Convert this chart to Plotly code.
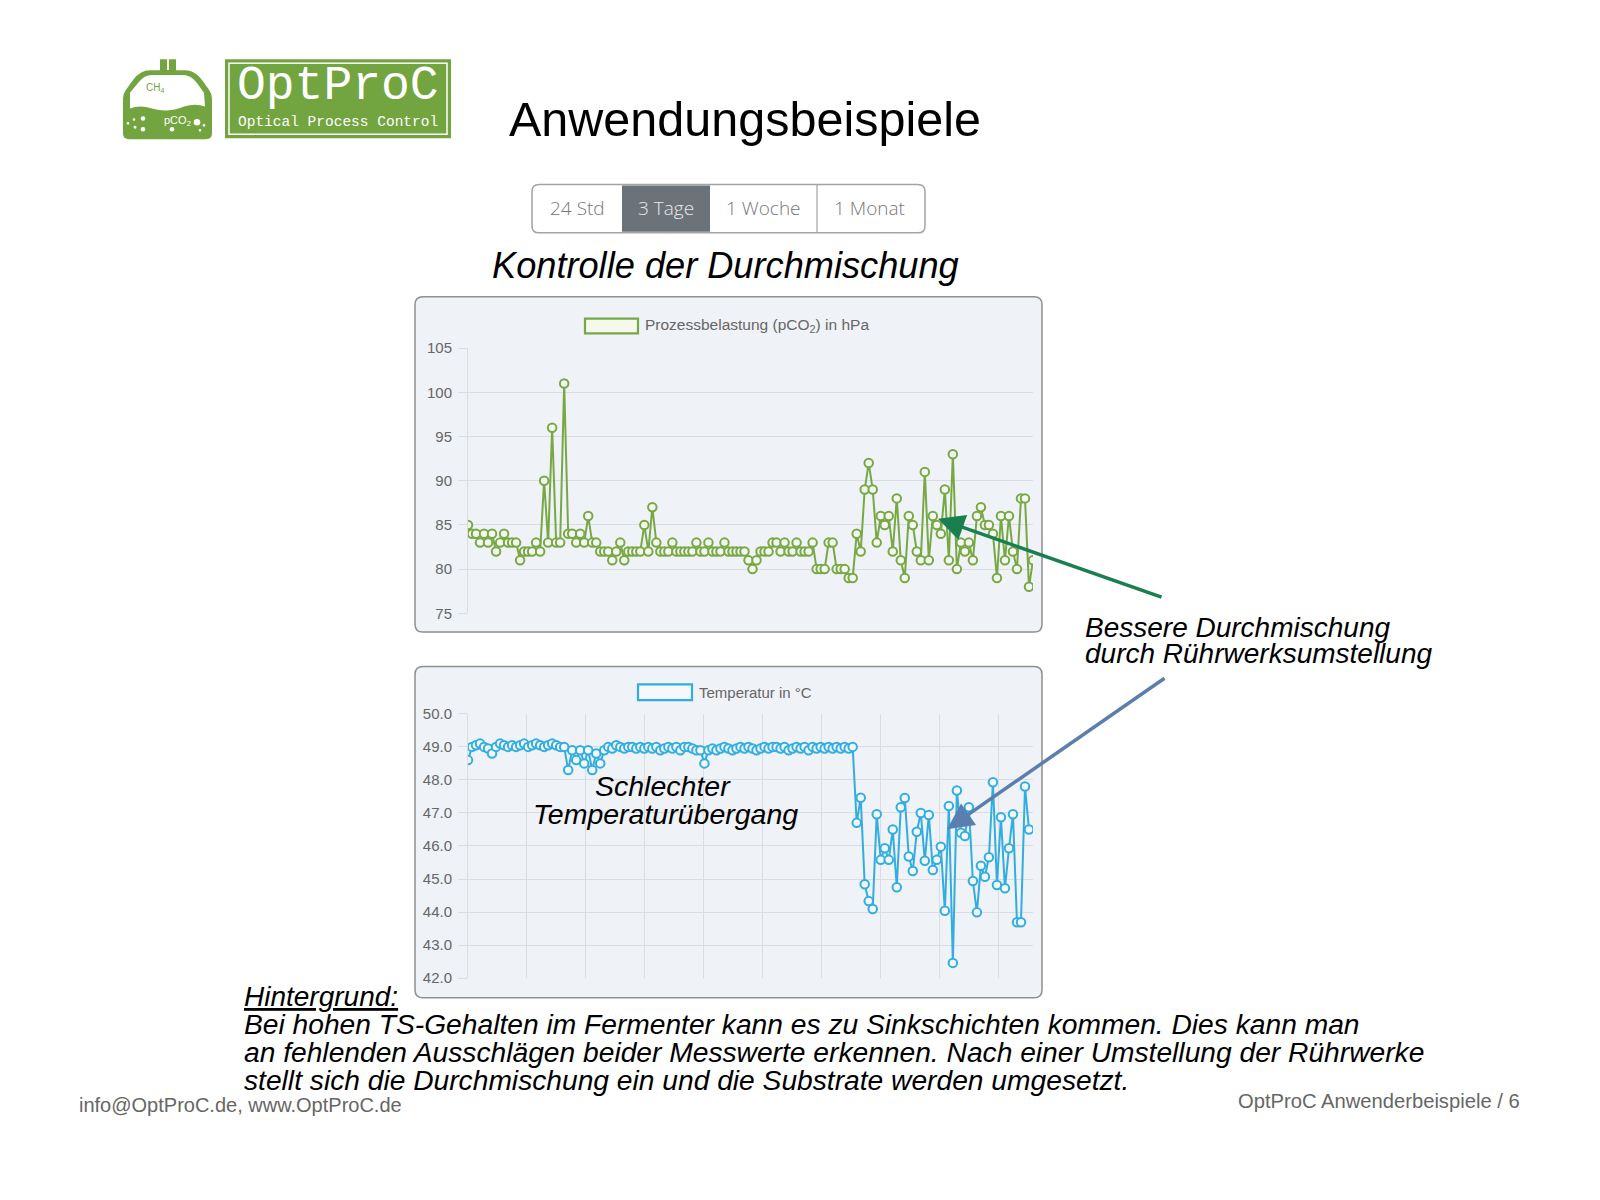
import plotly.graph_objects as go

W, H = 1600, 1200

# ---------------- data ----------------
pco2_values = [
    85, 84, 84, 83, 84, 83, 84, 82, 83, 84, 83, 83, 83, 81, 82, 82, 82, 83, 82,
    90, 83, 96, 83, 83, 101, 84, 84, 83, 84, 83, 86, 83, 83, 82, 82, 82, 81, 82, 83,
    81, 82, 82, 82, 82, 85, 82, 87, 83, 82, 82, 82, 83, 82, 82, 82, 82, 82, 83, 82, 82,
    83, 82, 82,
    82, 83, 82, 82, 82, 82, 82, 81, 80, 81, 82, 82, 82, 83, 83, 82, 83, 82, 82, 83,
    82, 82, 82, 83, 80, 80, 80, 83, 83, 80, 80, 80, 79, 79,
    84, 82, 89, 92, 89, 83, 86, 85, 86, 82, 88, 81, 79, 86, 85, 82, 81, 91, 81, 86,
    85, 84, 89, 81, 93, 80, 83, 82, 83, 81, 86, 87, 85, 85, 84, 79, 86, 81, 86, 82,
    80, 88, 88, 78, 81,
]

temp_values = [
    48.6, 49.0, 49.05, 49.1, 49.0, 48.95, 48.8, 49.0, 49.1, 49.05,
    49.0, 49.05, 49.0, 49.05, 49.1, 49.0, 49.05, 49.1, 49.05, 49.0,
    49.05, 49.1, 49.05, 49.0, 49.0, 48.3, 48.9, 48.6, 48.9, 48.5,
    48.9, 48.3, 48.8, 48.5, 48.9, 49.0, 48.95, 49.05, 49.0, 48.95,
    49.0, 49.0, 48.95, 49.0, 48.95, 49.0, 48.95, 49.0, 48.9, 48.95,
    49.0, 48.95, 49.0, 48.9, 49.0, 49.0, 48.95, 48.9, 48.9, 48.5,
    48.9, 48.95, 48.9, 48.95, 49.0, 48.95, 48.9, 48.95, 49.0, 48.95,
    49.0, 48.95, 48.9, 48.95, 49.0, 48.95, 49.0, 49.0, 48.95, 49.0,
    48.9, 48.95, 49.0, 48.95, 49.0, 48.9, 49.0, 48.95, 49.0, 48.95,
    49.0, 48.95, 49.0, 48.95, 49.0, 48.95, 49.0,
    46.7, 47.46, 44.84, 44.33, 44.09, 46.96, 45.58, 45.93, 45.58, 46.5,
    44.75, 47.17, 47.45, 45.68, 45.24, 46.43, 47.0, 45.55, 46.94, 45.27,
    45.58, 45.98, 44.04, 47.21, 42.46, 47.68, 46.4, 46.3, 47.17, 44.94,
    43.99, 45.4, 45.07, 45.66, 47.93, 44.82, 46.87, 44.72, 45.93, 46.96,
    43.69, 43.69, 47.8, 46.5,
]

pco2_ticks = [75, 80, 85, 90, 95, 100, 105]
temp_ticks = [42.0, 43.0, 44.0, 45.0, 46.0, 47.0, 48.0, 49.0, 50.0]
time_buttons = ["24 Std", "3 Tage", "1 Woche", "1 Monat"]

pco2_label = "Prozessbelastung (pCO<sub>2</sub>) in hPa"
temp_label = "Temperatur in °C"

# ---------------- helpers ----------------
def X(x):
    return x / W


def Y(y):
    return 1 - y / H


def pt(x, y):
    return f"{X(x):.5f},{Y(y):.5f}"


def rrect(x0, y0, x1, y1, r):
    return (f"M{pt(x0 + r, y0)} L{pt(x1 - r, y0)} Q{pt(x1, y0)} {pt(x1, y0 + r)} "
            f"L{pt(x1, y1 - r)} Q{pt(x1, y1)} {pt(x1 - r, y1)} L{pt(x0 + r, y1)} "
            f"Q{pt(x0, y1)} {pt(x0, y1 - r)} L{pt(x0, y0 + r)} Q{pt(x0, y0)} {pt(x0 + r, y0)} Z")


shapes = []
annotations = []


def add_path(path, fill, line_color=None, line_width=0, layer="below"):
    shapes.append(dict(type="path", xref="paper", yref="paper", path=path,
                       fillcolor=fill, layer=layer,
                       line=dict(color=line_color or "rgba(0,0,0,0)", width=line_width)))


def add_rect(x0, y0, x1, y1, fill, line_color=None, line_width=0, layer="below"):
    shapes.append(dict(type="rect", xref="paper", yref="paper",
                       x0=X(x0), x1=X(x1), y0=Y(y1), y1=Y(y0),
                       fillcolor=fill, layer=layer,
                       line=dict(color=line_color or "rgba(0,0,0,0)", width=line_width)))


def add_line(x0, y0, x1, y1, color, width, layer="below"):
    shapes.append(dict(type="line", xref="paper", yref="paper",
                       x0=X(x0), x1=X(x1), y0=Y(y0), y1=Y(y1), layer=layer,
                       line=dict(color=color, width=width)))


def add_circle(cx, cy, r, fill, layer="below"):
    shapes.append(dict(type="circle", xref="paper", yref="paper",
                       x0=X(cx - r), x1=X(cx + r), y0=Y(cy + r), y1=Y(cy - r),
                       fillcolor=fill, layer=layer, line=dict(width=0)))


def add_text(x, y, text, size, color="#000000", xanchor="left", yanchor="middle",
             family="Liberation Sans, Arial, sans-serif", style="normal", **kw):
    font = dict(size=size, color=color, family=family, style=style)
    font.update(kw.pop("fontextra", {}))
    annotations.append(dict(x=X(x), y=Y(y), xref="paper", yref="paper", text=text,
                            showarrow=False, xanchor=xanchor, yanchor=yanchor,
                            font=font, **kw))


GREEN_LOGO = "#72a53f"

# ---------------- logo ----------------
dy = -6
add_rect(160, 57 + dy, 176, 69 + dy, GREEN_LOGO)
add_line(168, 57 + dy, 168, 68 + dy, "#ffffff", 2)
tank_pts = [(150, 68), (185, 68), (195, 68), (202, 78), (209, 88), (212, 92), (212, 97),
            (212, 132), (212, 138), (206, 138), (129, 138), (123, 138), (123, 132),
            (123, 97), (123, 92), (126, 88), (133, 78), (140, 68), (150, 68)]
tp = [pt(x, y + dy) for x, y in tank_pts]
tank = (f"M{tp[0]} L{tp[1]} Q{tp[2]} {tp[3]} L{tp[4]} Q{tp[5]} {tp[6]} L{tp[7]} "
        f"Q{tp[8]} {tp[9]} L{tp[10]} Q{tp[11]} {tp[12]} L{tp[13]} Q{tp[14]} {tp[15]} "
        f"L{tp[16]} Q{tp[17]} {tp[18]} Z")
add_path(tank, GREEN_LOGO)
gas_pts = [(152, 73), (183, 73), (191, 73), (197, 81), (204, 91), (205, 105), (196, 101),
           (184, 105), (168, 112), (152, 107), (140, 103), (130, 107), (130, 91),
           (138, 81), (144, 73), (152, 73)]
gp = [pt(x, y + dy) for x, y in gas_pts]
gas = (f"M{gp[0]} L{gp[1]} Q{gp[2]} {gp[3]} L{gp[4]} L{gp[5]} Q{gp[6]} {gp[7]} "
       f"Q{gp[8]} {gp[9]} Q{gp[10]} {gp[11]} L{gp[12]} L{gp[13]} Q{gp[14]} {gp[15]} Z")
add_path(gas, "#ffffff")
for cx, cy, r in [(128, 122, 1.3), (134, 118, 1.3), (135, 126, 1.5), (143, 117, 2.3),
                  (143, 128, 2.3), (172, 128, 2.3), (197, 121, 3.3), (204, 124, 1.4),
                  (200, 129, 1.4)]:
    add_circle(cx, cy + dy, r, "#ffffff")
add_text(155, 86 + dy, "CH<sub>4</sub>", 10, GREEN_LOGO, xanchor="center")
add_text(177, 120 + dy, "pCO<sub>2</sub>", 11, "#ffffff", xanchor="center")

add_rect(225, 51, 451, 131, GREEN_LOGO)
add_rect(229, 55, 447, 127, "rgba(0,0,0,0)", "#ffffff", 1.5)
add_text(338, 78, "OptProC", 48, "#ffffff", xanchor="center",
         family="Liberation Mono, Courier New, monospace")
add_text(338, 115, "Optical Process Control", 14.5, "#ffffff", xanchor="center",
         family="Liberation Mono, Courier New, monospace")

# ---------------- title ----------------
add_text(745, 112, "Anwendungsbeispiele", 48.5, "#000000", xanchor="center")

# ---------------- button group ----------------
add_path(rrect(532, 178, 925, 227, 7), "#ffffff", "#a3a3a3", 1.5)
add_rect(622, 179, 710, 226, "#6b7279")
add_line(817, 178, 817, 227, "#a3a3a3", 1.2)
btn_centers = [577, 666, 763, 870]
for label, cx in zip(time_buttons, btn_centers):
    col = "#e8e8e8" if label == "3 Tage" else "#777777"
    add_text(cx, 202, label, 19, col, xanchor="center",
             family="Open Sans, Noto Sans, sans-serif", fontextra=dict(weight=300))

# ---------------- subtitle ----------------
add_text(725, 260, "Kontrolle der Durchmischung", 36.2, "#000000", xanchor="center",
         style="italic")

# ---------------- chart boxes ----------------
BOX_BG = "#eff2f6"
add_path(rrect(415, 292, 1042, 632, 8), BOX_BG, "#8f8f8f", 1.5)
add_path(rrect(415, 667, 1042, 1003, 8), BOX_BG, "#8f8f8f", 1.5)

GREEN = "#77a845"
BLUE = "#33ade0"

add_rect(585, 314, 638, 329, "#f6f8ee", GREEN, 2.2, layer="above")
add_text(643, 321, pco2_label, 15.5, "#666666")
add_rect(638, 685, 692, 701, "#f5f9fc", BLUE, 2.2, layer="above")
add_text(697, 693, temp_label, 15, "#666666")

# ---------------- annotations on slide ----------------
add_text(1083, 627, "Bessere Durchmischung", 28, "#000000", style="italic")
add_text(1083, 654, "durch Rührwerksumstellung", 28, "#000000", style="italic")

add_text(663, 788, "Schlechter", 28.5, "#000000", xanchor="center", style="italic")
add_text(665, 817, "Temperaturübergang", 28.5, "#000000", xanchor="center", style="italic")

annotations.append(dict(x=X(938), y=Y(517), xref="paper", yref="paper", text="",
                        showarrow=True, ax=225, ay=79, arrowhead=2, arrowsize=1.5,
                        arrowwidth=3.5, arrowcolor="#1a7f4f", standoff=0))
annotations.append(dict(x=X(947), y=Y(832), xref="paper", yref="paper", text="",
                        showarrow=True, ax=219, ay=-152, arrowhead=2, arrowsize=1.5,
                        arrowwidth=3.5, arrowcolor="#5a7fae", standoff=0))

add_text(242, 1002, "Hintergrund:", 28, "#000000", style="italic",
         fontextra=dict(lineposition="under"))
body_lines = [
    "Bei hohen TS-Gehalten im Fermenter kann es zu Sinkschichten kommen. Dies kann man",
    "an fehlenden Ausschlägen beider Messwerte erkennen. Nach einer Umstellung der Rührwerke",
    "stellt sich die Durchmischung ein und die Substrate werden umgesetzt.",
]
for i, line in enumerate(body_lines):
    add_text(242, 1030 + 28 * i, line, 28.2, "#000000", style="italic")

add_text(77, 1112, "info@OptProC.de, www.OptProC.de", 20, "#666666")
add_text(1522, 1108, "OptProC Anwenderbeispiele / 6", 20.2, "#666666", xanchor="right")

# ---------------- traces ----------------
fig = go.Figure()
fig.add_trace(go.Scatter(
    x=list(range(len(pco2_values))), y=pco2_values, mode="lines+markers",
    line=dict(color=GREEN, width=2),
    marker=dict(symbol="circle", size=8.5, color="#f4f7ef", line=dict(color=GREEN, width=2)),
    xaxis="x", yaxis="y", showlegend=False, hoverinfo="skip"))
fig.add_trace(go.Scatter(
    x=list(range(len(temp_values))), y=temp_values, mode="lines+markers",
    line=dict(color=BLUE, width=2),
    marker=dict(symbol="circle", size=8.5, color="#f1f8fc", line=dict(color=BLUE, width=2)),
    xaxis="x2", yaxis="y2", showlegend=False, hoverinfo="skip"))

GRID = "#d9dde2"
xdom = [X(468), X(1033)]
tickfont = dict(size=15, color="#666666", family="Liberation Sans, Arial, sans-serif")

fig.update_layout(
    width=W, height=H, autosize=False,
    margin=dict(l=0, r=0, t=0, b=0, pad=0),
    paper_bgcolor="#ffffff", plot_bgcolor="rgba(0,0,0,0)",
    shapes=shapes, annotations=annotations, showlegend=False,
    xaxis=dict(domain=xdom, range=[0, 141], showticklabels=False, showgrid=False,
               zeroline=False, showline=False, ticks="", fixedrange=True),
    yaxis=dict(domain=[Y(613), Y(344)], range=[75, 105], tickvals=pco2_ticks,
               showgrid=True, gridcolor=GRID, gridwidth=1, zeroline=False,
               showline=True, linecolor=GRID, linewidth=1,
               ticks="outside", ticklen=9, tickcolor=GRID, tickfont=tickfont,
               ticklabelstandoff=3, fixedrange=True),
    xaxis2=dict(domain=xdom, range=[0, 141], showticklabels=False, showgrid=True,
                gridcolor=GRID, tick0=0, dtick=14.7, zeroline=False, showline=False,
                ticks="", anchor="y2", fixedrange=True),
    yaxis2=dict(domain=[Y(983), Y(715)], range=[42, 50], tickvals=temp_ticks,
                tickformat=".1f", showgrid=True, gridcolor=GRID, gridwidth=1,
                zeroline=False, showline=True, linecolor=GRID, linewidth=1,
                ticks="outside", ticklen=9, tickcolor=GRID, tickfont=tickfont,
                ticklabelstandoff=3, anchor="x2", fixedrange=True),
)

fig.write_html("out.html", config=dict(displayModeBar=False),
               post_script="document.body.style.margin='0';document.body.style.overflow='hidden';")
